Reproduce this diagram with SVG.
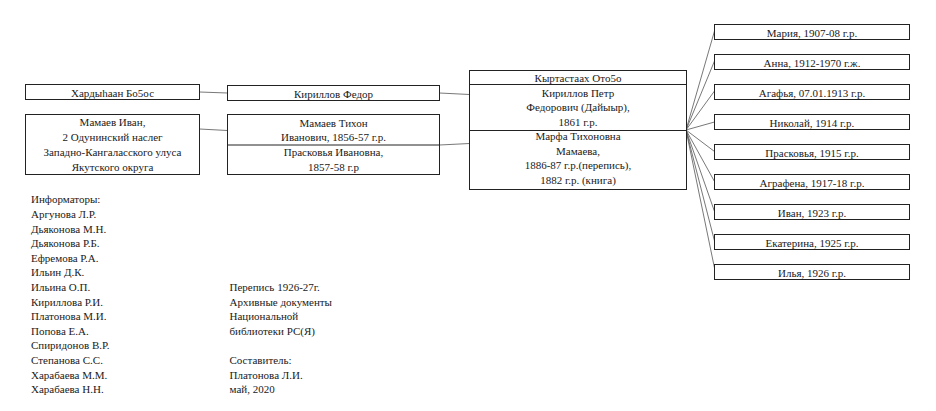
<svg xmlns="http://www.w3.org/2000/svg" width="936" height="411" viewBox="0 0 936 411">
<style>
text{font-family:"Liberation Serif","Times New Roman",serif;font-size:11px;fill:#1a1a1a}
.c{text-anchor:middle}
.box{fill:#fff;stroke:#222;stroke-width:1}
.div{stroke:#222;stroke-width:1}
.conn line{stroke:#555;stroke-width:0.8}
</style>
<rect width="936" height="411" fill="#fff"/>
<g class="conn" id="connectors">
<line x1="199.5" y1="92" x2="227.5" y2="93"/>
<line x1="199.5" y1="129" x2="227.5" y2="130.5"/>
<line x1="439.5" y1="93" x2="469.5" y2="94.5"/>
<line x1="439.5" y1="145" x2="469.5" y2="143.5"/>
<line x1="686" y1="130" x2="714.5" y2="31"/>
<line x1="686" y1="130" x2="714.5" y2="61"/>
<line x1="686" y1="130" x2="714.5" y2="91"/>
<line x1="686" y1="130" x2="714.5" y2="122"/>
<line x1="686" y1="130" x2="714.5" y2="151.5"/>
<line x1="686" y1="130" x2="714.5" y2="181.5"/>
<line x1="686" y1="130" x2="714.5" y2="211.5"/>
<line x1="686" y1="130" x2="714.5" y2="241"/>
<line x1="686" y1="130" x2="714.5" y2="268"/>
</g>
<g id="n-hardyhaan">
<rect class="box" x="25.5" y="84.5" width="174" height="15"/>
<text class="c" x="112.5" y="96.5">Хардыhаан Бо5ос</text>
</g>
<g id="n-mamaev-ivan">
<rect class="box" x="25.5" y="114.5" width="174" height="60"/>
<text class="c" x="112.5" y="126">Мамаев Иван,</text>
<text class="c" x="112.5" y="141">2 Одунинский наслег</text>
<text class="c" x="112.5" y="156">Западно-Кангаласского улуса</text>
<text class="c" x="112.5" y="171">Якутского округа</text>
</g>
<g id="n-kirillov-fedor">
<rect class="box" x="227.5" y="85.5" width="212" height="15"/>
<text class="c" x="333.5" y="97.5">Кириллов Федор</text>
</g>
<g id="n-mamaev-tihon">
<rect class="box" x="227.5" y="114.5" width="212" height="60"/>
<line class="div" x1="227.5" y1="145" x2="439.5" y2="145"/>
<text class="c" x="333.5" y="126.5">Мамаев Тихон</text>
<text class="c" x="333.5" y="141">Иванович, 1856-57 г.р.</text>
<text class="c" x="333.5" y="156">Прасковья Ивановна,</text>
<text class="c" x="333.5" y="170.5">1857-58 г.р</text>
</g>
<g id="n-center">
<rect class="box" x="469.5" y="70.5" width="217" height="119"/>
<line class="div" x1="469.5" y1="84.5" x2="686.5" y2="84.5"/>
<line class="div" x1="469.5" y1="130.5" x2="686.5" y2="130.5"/>
<text class="c" x="578" y="82">Кыртастаах Ото5о</text>
<text class="c" x="578" y="96.5">Кириллов Петр</text>
<text class="c" x="578" y="111">Федорович (Дайыыр),</text>
<text class="c" x="578" y="125.5">1861 г.р.</text>
<text class="c" x="578" y="140">Марфа Тихоновна</text>
<text class="c" x="578" y="154.5">Мамаева,</text>
<text class="c" x="578" y="169">1886-87 г.р.(перепись),</text>
<text class="c" x="578" y="183.5">1882 г.р. (книга)</text>
</g>
<g id="n-child1"><rect class="box" x="714.5" y="24.5" width="195" height="15"/><text class="c" x="812" y="36.5">Мария, 1907-08 г.р.</text></g>
<g id="n-child2"><rect class="box" x="714.5" y="54.5" width="195" height="15"/><text class="c" x="812" y="66.5">Анна, 1912-1970 г.ж.</text></g>
<g id="n-child3"><rect class="box" x="714.5" y="84.5" width="195" height="15"/><text class="c" x="812" y="96.5">Агафья, 07.01.1913 г.р.</text></g>
<g id="n-child4"><rect class="box" x="714.5" y="114.5" width="195" height="15"/><text class="c" x="812" y="126.5">Николай, 1914 г.р.</text></g>
<g id="n-child5"><rect class="box" x="714.5" y="144.5" width="195" height="15"/><text class="c" x="812" y="156.5">Прасковья, 1915 г.р.</text></g>
<g id="n-child6"><rect class="box" x="714.5" y="174.5" width="195" height="15"/><text class="c" x="812" y="186.5">Аграфена, 1917-18 г.р.</text></g>
<g id="n-child7"><rect class="box" x="714.5" y="204.5" width="195" height="15"/><text class="c" x="812" y="216.5">Иван, 1923 г.р.</text></g>
<g id="n-child8"><rect class="box" x="714.5" y="234.5" width="195" height="15"/><text class="c" x="812" y="246.5">Екатерина, 1925 г.р.</text></g>
<g id="n-child9"><rect class="box" x="714.5" y="264.5" width="195" height="15"/><text class="c" x="812" y="276.5">Илья, 1926 г.р.</text></g>
<g id="informants">
<text x="31" y="203.3">Информаторы:</text>
<text x="31" y="217.9">Аргунова Л.Р.</text>
<text x="31" y="232.5">Дьяконова М.Н.</text>
<text x="31" y="247.1">Дьяконова Р.Б.</text>
<text x="31" y="261.7">Ефремова Р.А.</text>
<text x="31" y="276.3">Ильин Д.К.</text>
<text x="31" y="290.9">Ильина О.П.</text>
<text x="31" y="305.5">Кириллова Р.И.</text>
<text x="31" y="320.1">Платонова М.И.</text>
<text x="31" y="334.7">Попова Е.А.</text>
<text x="31" y="349.3">Спиридонов В.Р.</text>
<text x="31" y="363.9">Степанова С.С.</text>
<text x="31" y="378.5">Харабаева М.М.</text>
<text x="31" y="393.1">Харабаева Н.Н.</text>
</g>
<g id="sources">
<text x="229.5" y="290.9">Перепись 1926-27г.</text>
<text x="229.5" y="305.5">Архивные документы</text>
<text x="229.5" y="320.1">Национальной</text>
<text x="229.5" y="334.7">библиотеки РС(Я)</text>
<text x="229.5" y="363.9">Составитель:</text>
<text x="229.5" y="378.5">Платонова Л.И.</text>
<text x="229.5" y="393.1">май, 2020</text>
</g>
</svg>
